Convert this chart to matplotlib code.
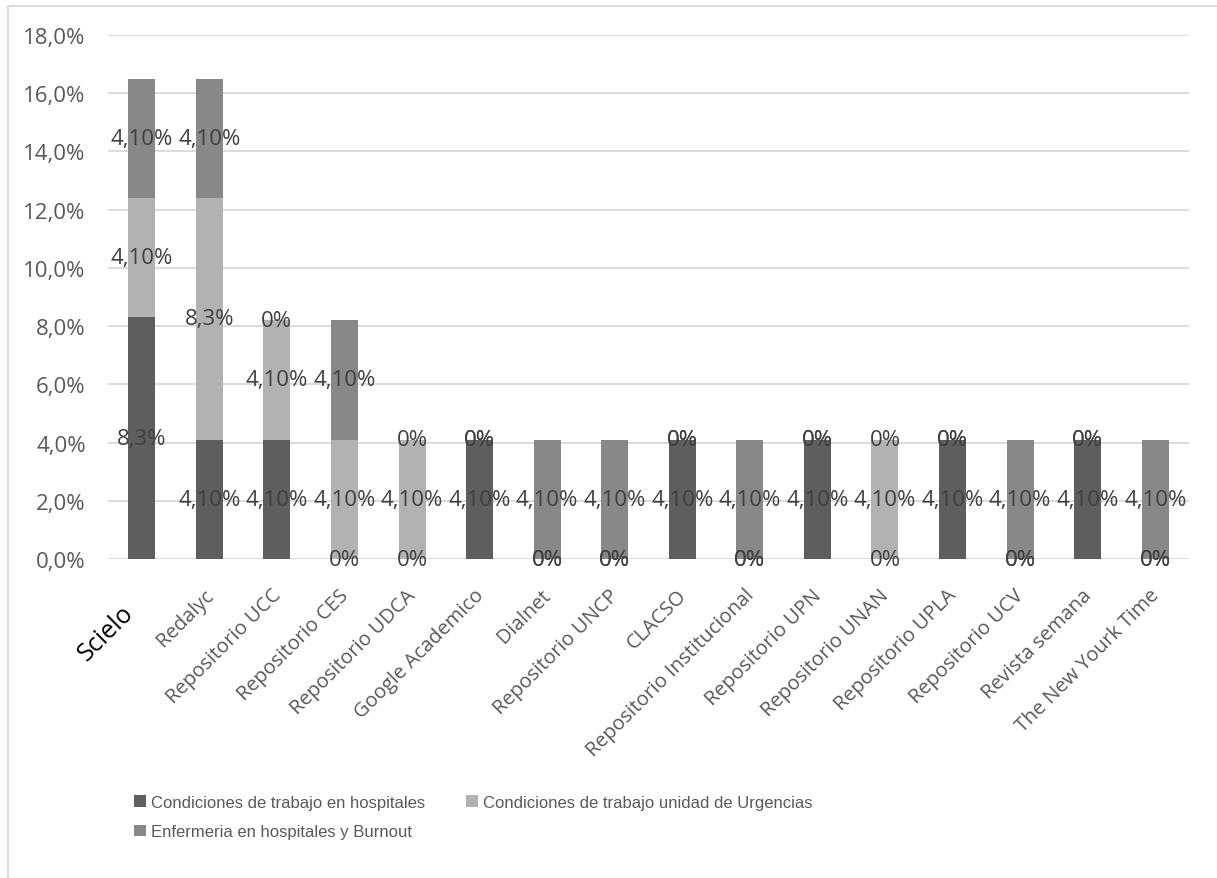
import matplotlib
matplotlib.use("Agg")
import matplotlib.pyplot as plt
import matplotlib.transforms as mtransforms
from matplotlib import font_manager
from matplotlib.lines import Line2D
import numpy as np

categories = ["Scielo", "Redalyc", "Repositorio UCC", "Repositorio CES", "Repositorio UDCA",
              "Google Academico", "Dialnet", "Repositorio UNCP", "CLACSO",
              "Repositorio Institucional", "Repositorio UPN", "Repositorio UNAN",
              "Repositorio UPLA", "Repositorio UCV", "Revista semana", "The New Yourk Time"]
series_names = ["Condiciones de trabajo en hospitales",
                "Condiciones de trabajo unidad de Urgencias",
                "Enfermeria en hospitales y Burnout"]
hospitales = [8.3, 4.1, 4.1, 0, 0, 4.1, 0, 0, 4.1, 0, 4.1, 0, 4.1, 0, 4.1, 0]
urgencias = [4.1, 8.3, 4.1, 4.1, 4.1, 0, 0, 0, 0, 0, 0, 4.1, 0, 0, 0, 0]
burnout = [4.1, 4.1, 0, 4.1, 0, 0, 4.1, 4.1, 0, 4.1, 0, 0, 0, 4.1, 0, 4.1]
label_text = {0: "0%", 4.1: "4,10%", 8.3: "8,3%"}
yticks = [0, 2, 4, 6, 8, 10, 12, 14, 16, 18]

colors = ["#5e5e5e", "#b2b2b2", "#888888"]
FONT = "Open Sans"

installed = {f.name for f in font_manager.fontManager.ttflist}
if "Liberation Sans Narrow" in installed:
    legend_prop = {"family": "Liberation Sans Narrow", "size": 13}
else:
    legend_prop = {"family": "Liberation Sans", "size": 12}

fig = plt.figure(figsize=(12.17, 8.79), dpi=100)
ax = fig.add_axes([108/1217, 1 - 560/879, (1189-108)/1217, (560-36)/879])

x = np.arange(len(categories))
bottom = np.zeros(len(categories))
handles = []
for vals, col, name in zip([hospitales, urgencias, burnout], colors, series_names):
    v = np.array(vals, dtype=float)
    bars = ax.bar(x, v, 0.4, bottom=bottom, color=col, label=name, zorder=2)
    ax.bar_label(bars, labels=[label_text[val] for val in vals], label_type="center",
                 fontsize=16, color="#404040", fontfamily=FONT, zorder=5)
    handles.append(bars)
    bottom += v

ax.set_ylim(0, 18)
ax.set_xlim(-0.5, len(categories) - 0.5)
ax.set_yticks(yticks)
ax.set_yticklabels([f"{t:.1f}".replace(".", ",") + "%" for t in yticks],
                   fontsize=16, color="#595959", fontfamily=FONT)
ax.tick_params(axis="y", length=0, pad=16)
ax.set_xticks(x)
ax.set_xticklabels([])
ax.tick_params(axis="x", length=0)
ax.grid(axis="y", color="#d9d9d9", linewidth=1.3, zorder=0)
ax.set_axisbelow(True)
for s in ax.spines.values():
    s.set_visible(False)

trans = mtransforms.blended_transform_factory(ax.transData, ax.transAxes)
for i, cat in enumerate(categories):
    if i == 0:
        off = mtransforms.ScaledTranslation(-12/100, -50/100, fig.dpi_scale_trans)
        ax.text(i, 0, cat, transform=trans + off, rotation=45, ha="right", va="center",
                rotation_mode="anchor", fontsize=18, color="#000000", fontfamily=FONT)
    else:
        off = mtransforms.ScaledTranslation(1/100, -33/100, fig.dpi_scale_trans)
        ax.text(i, 0, cat, transform=trans + off, rotation=45, ha="right", va="center",
                rotation_mode="anchor", fontsize=14.5, color="#595959", fontfamily=FONT)

leg = fig.legend([handles[0], handles[2], handles[1]],
                 [series_names[0], series_names[2], series_names[1]],
                 ncol=2, loc="upper left", bbox_to_anchor=(134/1217, 1 - 796/879),
                 frameon=False, handlelength=0.7, handleheight=0.7, handletextpad=0.3,
                 columnspacing=2.5, labelspacing=0.85, borderaxespad=0, borderpad=0,
                 prop=legend_prop, labelcolor="#595959")

fig.add_artist(Line2D([8/1217, 1], [1 - 7/879, 1 - 7/879], transform=fig.transFigure,
                      color="#d9d9d9", linewidth=1.3))
fig.add_artist(Line2D([8/1217, 8/1217], [0, 1 - 7/879], transform=fig.transFigure,
                      color="#d9d9d9", linewidth=1.3))

fig.savefig("out.png", dpi=100, facecolor="white")
